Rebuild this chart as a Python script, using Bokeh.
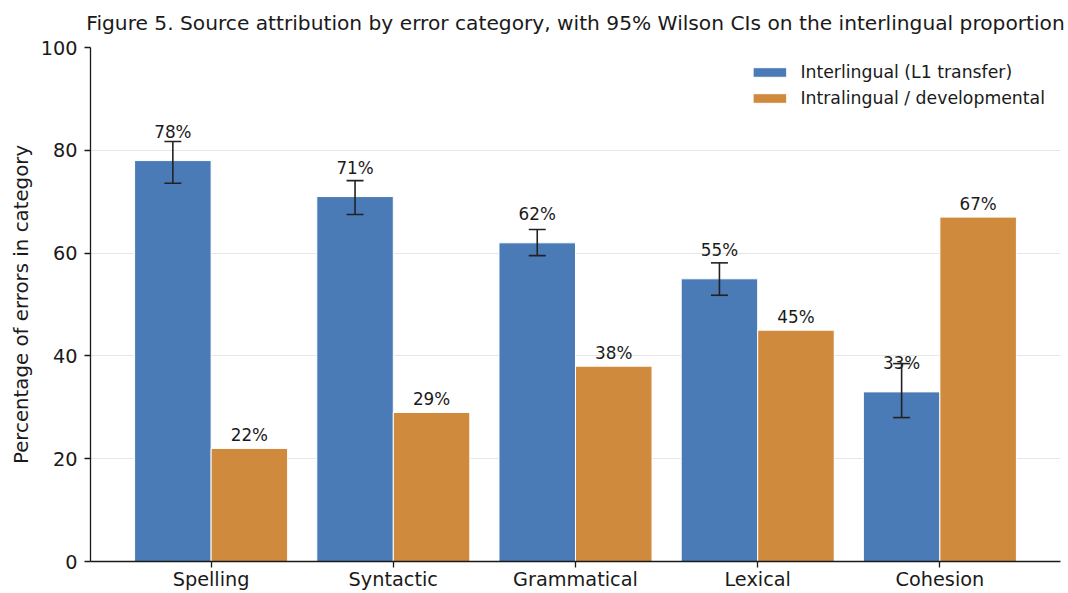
from bokeh.plotting import figure
from bokeh.models import (ColumnDataSource, Whisker, TeeHead, FixedTicker,
                          Range1d, Legend, LegendItem)
from bokeh.embed import file_html
from bokeh.resources import INLINE

# Error categories and source attribution (% of errors in each category)
categories = ["Spelling", "Syntactic", "Grammatical", "Lexical", "Cohesion"]
interlingual = [78, 71, 62, 55, 33]
intralingual = [22, 29, 38, 45, 67]
# 95% Wilson confidence interval on the interlingual proportion
inter_ci_low = [73.6, 67.5, 59.5, 51.8, 28.0]
inter_ci_high = [81.7, 74.1, 64.6, 58.1, 38.5]
y_ticks = [0, 20, 40, 60, 80, 100]

BLUE = "#4a7bb7"
ORANGE = "#cf8a3d"
FONT = "DejaVu Sans"
INK = "#1a1a1a"
BAR_W = 0.42

idx = list(range(len(categories)))
src_inter = ColumnDataSource(dict(
    x=[i - BAR_W / 2 for i in idx], top=interlingual,
    lo=inter_ci_low, hi=inter_ci_high,
    lbl=[f"{v}%" for v in interlingual]))
src_intra = ColumnDataSource(dict(
    x=[i + BAR_W / 2 for i in idx], top=intralingual,
    lbl=[f"{v}%" for v in intralingual]))

p = figure(width=1068, height=593, output_backend="svg", toolbar_location=None,
           x_range=Range1d(-0.662, len(categories) - 1 + 0.662),
           y_range=Range1d(y_ticks[0], y_ticks[-1]),
           min_border_left=90, min_border_right=8,
           min_border_top=47, min_border_bottom=0)

p.title.text = ("Figure 5. Source attribution by error category, "
                "with 95% Wilson CIs on the interlingual proportion")
p.title.align = "center"
p.title.vertical_align = "top"
p.title.text_font = FONT
p.title.text_font_size = "20.2px"
p.title.text_font_style = "normal"
p.title.text_color = INK
p.title.standoff = 21

p.outline_line_color = None
p.background_fill_color = "white"
p.border_fill_color = "white"

r_inter = p.vbar(x="x", top="top", width=BAR_W, source=src_inter,
                 fill_color=BLUE, line_color="white", line_width=1)
r_intra = p.vbar(x="x", top="top", width=BAR_W, source=src_intra,
                 fill_color=ORANGE, line_color="white", line_width=1)

whisker = Whisker(base="x", lower="lo", upper="hi", source=src_inter,
                  line_color="#222222", line_width=1.6, level="annotation",
                  upper_head=TeeHead(size=17, line_color="#222222", line_width=1.6),
                  lower_head=TeeHead(size=17, line_color="#222222", line_width=1.6))
p.add_layout(whisker)

p.text(x="x", y="top", text="lbl", source=src_inter, text_align="center",
       text_baseline="bottom", y_offset=-19, text_font={"value": FONT},
       text_font_size="16.8px", text_color=INK)
p.text(x="x", y="top", text="lbl", source=src_intra, text_align="center",
       text_baseline="bottom", y_offset=-3, text_font={"value": FONT},
       text_font_size="16.8px", text_color=INK)

# Axes
p.xaxis.ticker = FixedTicker(ticks=idx)
p.xaxis.major_label_overrides = {i: c for i, c in zip(idx, categories)}
p.yaxis.ticker = FixedTicker(ticks=y_ticks)
for ax in (p.xaxis[0], p.yaxis[0]):
    ax.major_label_text_font = FONT
    ax.major_label_text_font_size = "19.3px"
    ax.major_label_text_color = INK
    ax.axis_line_color = INK
    ax.axis_line_width = 1.3
    ax.major_tick_line_color = INK
    ax.major_tick_line_width = 1.3
    ax.major_tick_out = 6
    ax.major_tick_in = 0
    ax.minor_tick_line_color = None
    ax.major_label_standoff = 7
p.xaxis.major_label_standoff = 0
p.yaxis.axis_label = "Percentage of errors in category"
p.yaxis.axis_label_text_font = FONT
p.yaxis.axis_label_text_font_size = "19.8px"
p.yaxis.axis_label_text_font_style = "normal"
p.yaxis.axis_label_text_color = INK
p.yaxis.axis_label_standoff = 5

p.xgrid.grid_line_color = None
p.ygrid.grid_line_color = "#e6e6e6"
p.ygrid.grid_line_width = 1

legend = Legend(items=[
    LegendItem(label="Interlingual (L1 transfer)", renderers=[r_inter]),
    LegendItem(label="Intralingual / developmental", renderers=[r_intra]),
], location="top_right")
legend.border_line_color = None
legend.background_fill_alpha = 0
legend.label_text_font = FONT
legend.label_text_font_size = "17.3px"
legend.label_text_color = INK
legend.glyph_width = 42
legend.glyph_height = 12
legend.label_height = 20
legend.spacing = 6
legend.margin = 15
legend.padding = 8
legend.label_standoff = 10
p.add_layout(legend)

open("out.html", "w").write(file_html(p, INLINE))
